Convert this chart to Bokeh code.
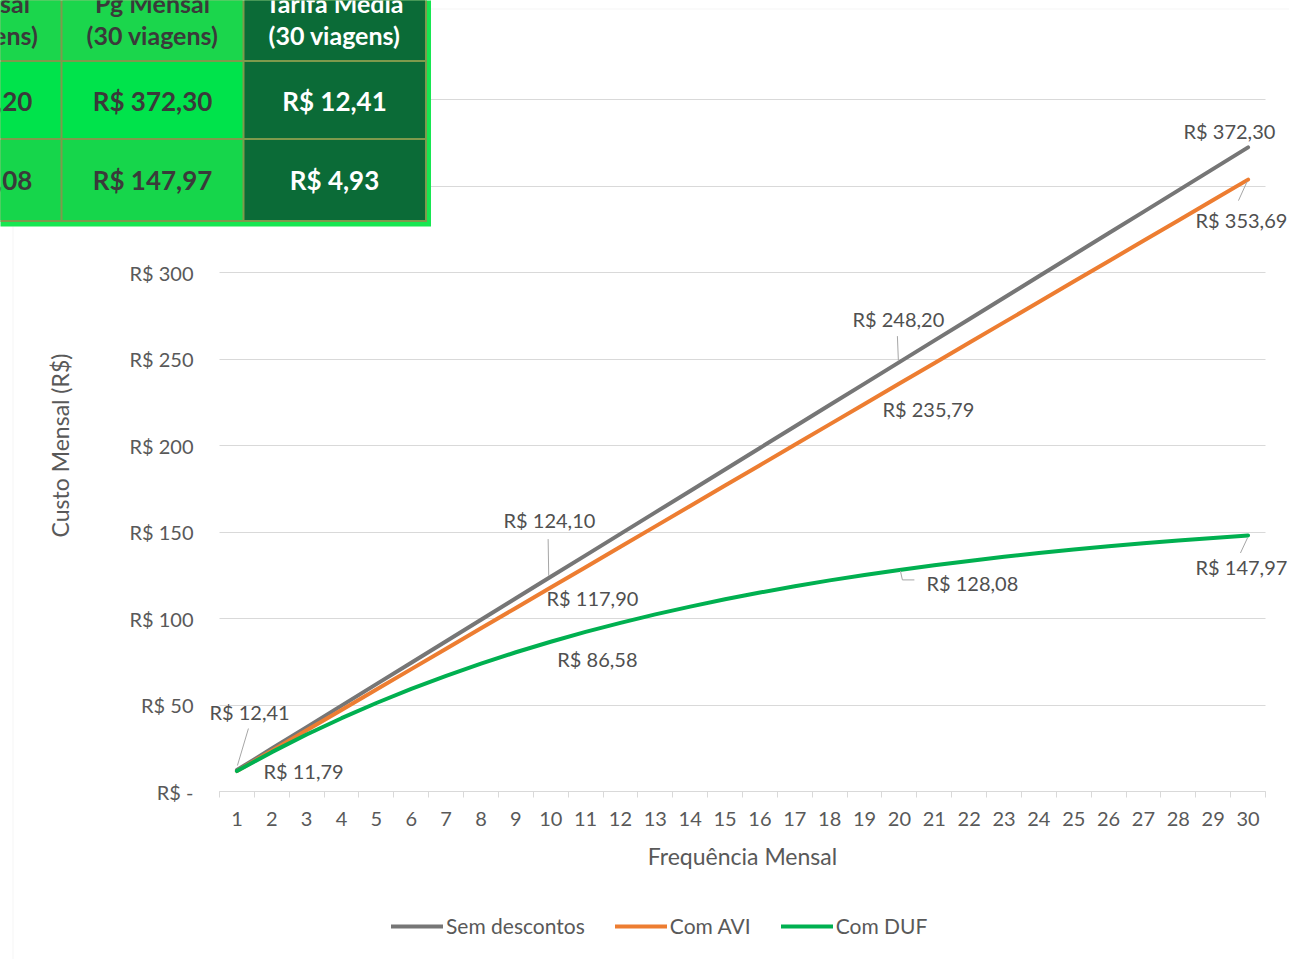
from bokeh.plotting import figure
from bokeh.models import Range1d, FixedTicker, ColumnDataSource, BoxAnnotation, Label
from bokeh.core.properties import value
from bokeh.embed import file_html
from bokeh.resources import INLINE

# ---------------- data ----------------
viagens = list(range(1, 31))
sem_descontos = [12.41, 24.82, 37.23, 49.64, 62.05, 74.46, 86.87, 99.28, 111.69, 124.10,
                 136.51, 148.92, 161.33, 173.74, 186.15, 198.56, 210.97, 223.38, 235.79, 248.20,
                 260.61, 273.02, 285.43, 297.84, 310.25, 322.66, 335.07, 347.48, 359.89, 372.30]
com_avi = [11.79, 23.58, 35.37, 47.16, 58.95, 70.74, 82.53, 94.32, 106.11, 117.90,
           129.68, 141.47, 153.26, 165.05, 176.84, 188.63, 200.42, 212.21, 224.00, 235.79,
           247.58, 259.37, 271.16, 282.95, 294.74, 306.53, 318.32, 330.11, 341.90, 353.69]
com_duf = [11.79, 22.74, 32.92, 42.37, 51.16, 59.32, 66.90, 73.95, 80.50, 86.58,
           92.23, 97.48, 102.36, 106.89, 111.10, 115.01, 118.65, 122.03, 125.16, 128.08,
           130.79, 133.30, 135.64, 137.81, 139.83, 141.71, 143.45, 145.07, 146.57, 147.97]
series_names = ["Sem descontos", "Com AVI", "Com DUF"]

y_ticks = [0, 50, 100, 150, 200, 250, 300, 350, 400]
y_tick_labels = ["R$ -", "R$ 50", "R$ 100", "R$ 150", "R$ 200", "R$ 250", "R$ 300", "R$ 350", "R$ 400"]
x_title = "Frequência Mensal"
y_title = "Custo Mensal (R$)"

table_header_l1 = ["Pg Mensal", "Pg Mensal", "Tarifa Média"]
table_header_l2 = ["(20 viagens)", "(30 viagens)", "(30 viagens)"]
table_row_sem = ["R$ 248,20", "R$ 372,30", "R$ 12,41"]
table_row_duf = ["R$ 128,08", "R$ 147,97", "R$ 4,93"]

# ---------------- layout / style ----------------
FONT = "Lato"
W, H = 1289, 959
FX0, FX1 = 219, 1265      # canvas x of category edges 0.5 and 30.5
FY0, FY400 = 791, 99      # canvas y of values 0 and 400
ux = (FX1 - FX0) / 30.0
uy = (FY0 - FY400) / 400.0

GRAY, ORANGE, GREEN = "#767676", "#ed7d31", "#00b050"
TXT = "#595959"
GRID = "#d9d9d9"

p = figure(width=W, height=H,
           x_range=Range1d(0.5 - FX0 / ux, 30.5 + (W - FX1) / ux),
           y_range=Range1d(0 - (H - FY0) / uy, 400 + FY400 / uy),
           output_backend="svg", toolbar_location=None,
           min_border=0, min_border_left=0, min_border_right=0,
           min_border_top=0, min_border_bottom=0)
p.outline_line_color = None
p.background_fill_color = "white"
p.border_fill_color = "white"

# axes
xaxis = p.xaxis[0]
xaxis.fixed_location = 0
xaxis.bounds = (0.5, 30.5)
xaxis.ticker = FixedTicker(ticks=viagens, minor_ticks=[v - 0.5 for v in viagens] + [30.5])
xaxis.axis_line_color = GRID
xaxis.major_tick_line_color = None
xaxis.major_tick_out = 0
xaxis.major_tick_in = 0
xaxis.minor_tick_line_color = GRID
xaxis.minor_tick_out = 6
xaxis.minor_tick_in = 0
xaxis.major_label_standoff = 14
xaxis.major_label_text_font = FONT
xaxis.major_label_text_font_size = "20px"
xaxis.major_label_text_color = TXT
xaxis.axis_label = x_title
xaxis.axis_label_text_font = FONT
xaxis.axis_label_text_font_size = "23px"
xaxis.axis_label_text_font_style = "normal"
xaxis.axis_label_text_color = TXT
xaxis.axis_label_standoff = 13

yaxis = p.yaxis[0]
yaxis.fixed_location = 0.5
yaxis.bounds = (0, 400)
yticker = FixedTicker(ticks=y_ticks)
yaxis.ticker = yticker
yaxis.major_label_overrides = {t: s for t, s in zip(y_ticks, y_tick_labels)}
yaxis.axis_line_color = None
yaxis.major_tick_line_color = None
yaxis.major_tick_out = 0
yaxis.major_tick_in = 0
yaxis.minor_tick_line_color = None
yaxis.major_label_standoff = 26
yaxis.major_label_text_font = FONT
yaxis.major_label_text_font_size = "20px"
yaxis.major_label_text_color = TXT
yaxis.axis_label = y_title
yaxis.axis_label_text_font = FONT
yaxis.axis_label_text_font_size = "23px"
yaxis.axis_label_text_font_style = "normal"
yaxis.axis_label_text_color = TXT
yaxis.axis_label_standoff = 52

p.xgrid.visible = False
grid_ok = True
try:
    p.ygrid.cross_bounds = (0.5, 30.5)
except Exception:
    grid_ok = False
if grid_ok:
    p.ygrid.ticker = yticker
    p.ygrid.grid_line_color = GRID
    p.ygrid.grid_line_width = 1
else:
    p.ygrid.visible = False
    p.segment(x0=[0.5] * (len(y_ticks) - 1), x1=[30.5] * (len(y_ticks) - 1),
              y0=y_ticks[1:], y1=y_ticks[1:], line_color=GRID, line_width=1, level="underlay")

# series lines
series = {"sem": sem_descontos, "avi": com_avi, "duf": com_duf}
for key, name, col in zip(["sem", "avi", "duf"], series_names, [GRAY, ORANGE, GREEN]):
    p.line(viagens, series[key], line_color=col, line_width=4, line_join="round",
           line_cap="round", legend_label=name)

# data labels: (series, trip, dx px, dy px)
data_labels = [
    ("sem", 1, 12.6, -58.5), ("avi", 1, 66.6, -0.6),
    ("sem", 10, -1.3, -57.0), ("avi", 10, 41.7, 10.0), ("duf", 10, 46.7, 17.0),
    ("sem", 20, -1.0, -43.0), ("avi", 20, 29.0, 25.0), ("duf", 20, 73.0, 13.0),
    ("sem", 30, -18.6, -16.4), ("avi", 30, -6.6, 40.0), ("duf", 30, -6.6, 31.4),
]


def fmt(v):
    return "R$ " + f"{v:.2f}".replace(".", ",")


lx = [n for (_, n, _, _) in data_labels]
ly = [series[k][n - 1] for (k, n, _, _) in data_labels]
lt = [fmt(series[k][n - 1]) for (k, n, _, _) in data_labels]
ldx = [d[2] for d in data_labels]
ldy = [d[3] for d in data_labels]
p.text(x="x", y="y", text="t", x_offset="dx", y_offset="dy",
       source=ColumnDataSource(dict(x=lx, y=ly, t=lt, dx=ldx, dy=ldy)),
       text_align="center", text_baseline="middle", text_font=value(FONT),
       text_font_size="20px", text_color="#505050")

# leader lines: (series, trip, dx0, dy0, dx1, dy1) in px from the point
leaders = [
    ("sem", 1, 0.5, -4.5, 11.5, -41.5),
    ("sem", 10, -2.0, -1.0, -2.6, -37.7),
    ("sem", 20, -1.0, -1.0, -2.0, -26.0),
    ("avi", 30, -1.0, 2.0, -9.6, 21.0),
    ("duf", 30, -0.6, 2.5, -7.6, 17.5),
    ("duf", 20, 1.0, 1.0, 3.0, 10.0),
    ("duf", 20, 3.0, 10.0, 15.0, 10.0),
]
sx0 = [n + a / ux for (k, n, a, b, c, d) in leaders]
sy0 = [series[k][n - 1] - b / uy for (k, n, a, b, c, d) in leaders]
sx1 = [n + c / ux for (k, n, a, b, c, d) in leaders]
sy1 = [series[k][n - 1] - d / uy for (k, n, a, b, c, d) in leaders]
p.segment(x0=sx0, y0=sy0, x1=sx1, y1=sy1, line_color="#a6a6a6", line_width=1)

# legend
lg = p.legend[0]
lg.orientation = "horizontal"
lg.location = (391, 21)
lg.glyph_width = 52
lg.glyph_height = 24
lg.label_height = 24
lg.label_standoff = 3
lg.spacing = 30
lg.padding = 0
lg.margin = 0
lg.border_line_color = None
lg.background_fill_alpha = 0
lg.label_text_font = FONT
lg.label_text_font_size = "21px"
lg.label_text_color = TXT


# ---------------- chart frame border and overlaid table ----------------
def sx(px):
    return px


def sy(py):
    return H - py


p.add_layout(BoxAnnotation(left=sx(12.5), right=sx(1400), top=sy(8.5), bottom=sy(1100),
                           left_units="screen", right_units="screen", top_units="screen",
                           bottom_units="screen", fill_alpha=0, line_color=GRID, line_width=1))


def cell(l, r, t, b, color):
    p.add_layout(BoxAnnotation(left=sx(l), right=sx(r), top=sy(t), bottom=sy(b),
                               left_units="screen", right_units="screen", top_units="screen",
                               bottom_units="screen", fill_color=color, fill_alpha=1,
                               line_color=None))


cell(-40, 430.5, -40, 226, "#17e651")
cell(-40, 426.5, -40, 221.5, "#7e9a4c")
col_lr = [(-40, 60), (62, 242), (244, 424.5)]
row_tb = [(-40, 59.5), (61.5, 137.5), (139.5, 219.5)]
light = ["#1bd64c", "#00e34b", "#16d64b"]
for ci, (l, r) in enumerate(col_lr):
    for ri, (t, b) in enumerate(row_tb):
        cell(l, r, t, b, "#0b6b37" if ci == 2 else light[ri])

col_cx = [-28, 152, 334]
for ci in range(3):
    c = "white" if ci == 2 else "#3a3a3a"
    for txt, base, size in [(table_header_l1[ci], 2.5, "25px"), (table_header_l2[ci], 34, "25px"),
                            (table_row_sem[ci], 100, "26px"), (table_row_duf[ci], 179, "26px")]:
        p.add_layout(Label(x=sx(col_cx[ci]), y=sy(base), x_units="screen", y_units="screen",
                           text=txt, text_align="center", text_baseline="alphabetic",
                           text_font=FONT, text_font_style="bold", text_font_size=size,
                           text_color=c))

open("out.html", "w").write(file_html(p, INLINE))
